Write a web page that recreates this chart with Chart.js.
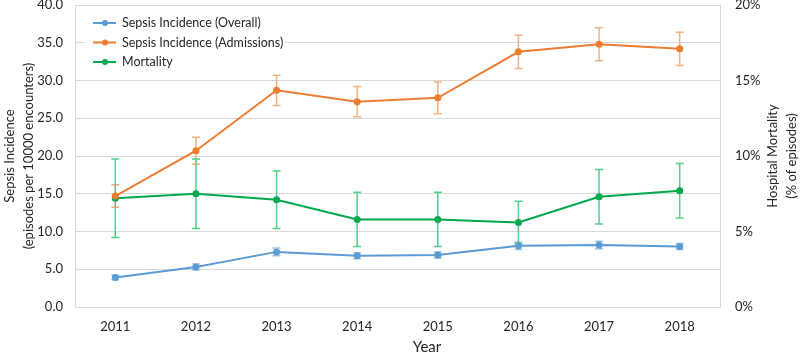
<!DOCTYPE html>
<html lang="en">
<head>
<meta charset="UTF-8">
<title>Sepsis Incidence and Mortality</title>
<script src="https://cdn.jsdelivr.net/npm/chart.js"></script>
<style>
  body { margin: 0; background: #fff; }
</style>
</head>
<body>
<canvas id="myChart" width="800" height="355"></canvas>
<script>
// data
const years = ['2011', '2012', '2013', '2014', '2015', '2016', '2017', '2018'];
const overall = [3.9, 5.3, 7.3, 6.8, 6.9, 8.1, 8.2, 8.0];
const overallErr = [0.3, 0.4, 0.5, 0.4, 0.4, 0.5, 0.5, 0.4];
const admissions = [14.7, 20.7, 28.7, 27.2, 27.7, 33.8, 34.8, 34.2];
const admissionsErr = [1.5, 1.8, 2.0, 2.0, 2.1, 2.2, 2.2, 2.2];
const mortality = [7.2, 7.5, 7.1, 5.8, 5.8, 5.6, 7.3, 7.7];
const mortalityErr = [2.6, 2.3, 1.9, 1.8, 1.8, 1.4, 1.8, 1.8];
const leftTicks = [0, 5, 10, 15, 20, 25, 30, 35, 40];
const rightTicks = [0, 5, 10, 15, 20];

const FONT = "Lato, sans-serif";
const TEXT = '#262626';
const GRID = '#d9d9d9';

// vertical error bars, drawn under the lines
const errorBars = {
  id: 'errorBars',
  beforeDatasetsDraw(chart) {
    const ctx = chart.ctx;
    chart.data.datasets.forEach((ds, i) => {
      const meta = chart.getDatasetMeta(i);
      const yScale = chart.scales[ds.yAxisID];
      ctx.save();
      ctx.strokeStyle = ds.errColor;
      ctx.lineWidth = 1.5;
      meta.data.forEach((pt, j) => {
        const top = yScale.getPixelForValue(ds.data[j] + ds.err[j]);
        const bot = yScale.getPixelForValue(ds.data[j] - ds.err[j]);
        ctx.beginPath();
        ctx.moveTo(pt.x, top); ctx.lineTo(pt.x, bot);
        ctx.moveTo(pt.x - 4, top); ctx.lineTo(pt.x + 4, top);
        ctx.moveTo(pt.x - 4, bot); ctx.lineTo(pt.x + 4, bot);
        ctx.stroke();
      });
      ctx.restore();
    });
  }
};

// legend inside the plot, line + dot like the original
const boxLegend = {
  id: 'boxLegend',
  afterDraw(chart) {
    const ctx = chart.ctx, a = chart.chartArea;
    const x0 = a.left + 10, y0 = a.top + 7;
    ctx.save();
    ctx.fillStyle = '#fff';
    ctx.fillRect(x0, y0, 200, 62);
    ctx.font = '12.5px ' + FONT;
    ctx.textBaseline = 'middle';
    chart.data.datasets.forEach((ds, i) => {
      const y = y0 + 11 + i * 19.5;
      ctx.strokeStyle = ds.borderColor;
      ctx.lineWidth = 2;
      ctx.beginPath();
      ctx.moveTo(x0 + 8, y); ctx.lineTo(x0 + 31, y);
      ctx.stroke();
      ctx.fillStyle = ds.borderColor;
      ctx.beginPath();
      ctx.arc(x0 + 20, y, 3, 0, Math.PI * 2);
      ctx.fill();
      ctx.fillStyle = TEXT;
      ctx.fillText(ds.label, x0 + 37, y);
    });
    ctx.restore();
  }
};

// right axis title reads bottom-to-top, and the x title sits a bit right of centre
const extraTitles = {
  id: 'extraTitles',
  afterDraw(chart) {
    const ctx = chart.ctx, a = chart.chartArea;
    const midY = (a.top + a.bottom) / 2;
    ctx.save();
    ctx.fillStyle = TEXT;
    ctx.textAlign = 'center';
    ctx.textBaseline = 'middle';
    ctx.font = '13px ' + FONT;
    ctx.translate(773, midY);
    ctx.rotate(-Math.PI / 2);
    ctx.fillText('Hospital Mortality', 0, 0);
    ctx.fillText('(% of episodes)', 0, 19);
    ctx.restore();

    ctx.save();
    ctx.fillStyle = TEXT;
    ctx.textAlign = 'center';
    ctx.textBaseline = 'middle';
    ctx.font = '15px ' + FONT;
    ctx.fillText('Year', 427, 347);
    ctx.restore();
  }
};

const noPad = scale => { scale.paddingTop = 0; scale.paddingBottom = 0; };

const ctx = document.getElementById('myChart').getContext('2d');
new Chart(ctx, {
  type: 'line',
  data: {
    labels: years,
    datasets: [
      {
        label: 'Sepsis Incidence (Overall)',
        data: overall, err: overallErr,
        borderColor: '#5B9BD5', backgroundColor: '#5B9BD5', errColor: '#9DC3E6',
        yAxisID: 'y'
      },
      {
        label: 'Sepsis Incidence (Admissions)',
        data: admissions, err: admissionsErr,
        borderColor: '#ED7D31', backgroundColor: '#ED7D31', errColor: '#F4B183',
        yAxisID: 'y'
      },
      {
        label: 'Mortality',
        data: mortality, err: mortalityErr,
        borderColor: '#00A94F', backgroundColor: '#00A94F', errColor: '#52D08A',
        yAxisID: 'y1'
      }
    ]
  },
  options: {
    responsive: false,
    animation: false,
    devicePixelRatio: 1,
    layout: { padding: { top: 5 } },
    elements: {
      line: { borderWidth: 2, tension: 0, fill: false },
      point: { radius: 3.5, borderWidth: 0, hoverRadius: 4 }
    },
    plugins: {
      legend: { display: false },
      tooltip: { enabled: false }
    },
    scales: {
      x: {
        offset: true,
        grid: { display: false, drawTicks: false },
        border: { display: true, color: GRID, width: 1 },
        ticks: { color: TEXT, font: { family: FONT, size: 13 }, padding: 12 },
        afterFit(scale) { scale.height = 48; }
      },
      y: {
        position: 'left',
        min: 0, max: 40,
        afterBuildTicks(scale) { scale.ticks = leftTicks.map(v => ({ value: v })); },
        grid: { color: GRID, lineWidth: 1, drawTicks: false },
        border: { display: true, color: GRID, width: 1 },
        ticks: {
          color: TEXT, font: { family: FONT, size: 13 }, padding: 12,
          callback: v => v.toFixed(1)
        },
        title: {
          display: true,
          text: ['Sepsis Incidence', '(episodes per 10000 encounters)'],
          color: TEXT,
          font: { family: FONT, size: 13, lineHeight: 1.5 },
          padding: { top: 0, bottom: 0 }
        },
        afterFit(scale) { scale.width = 75; noPad(scale); }
      },
      y1: {
        position: 'right',
        min: 0, max: 20,
        afterBuildTicks(scale) { scale.ticks = rightTicks.map(v => ({ value: v })); },
        grid: { display: false, drawTicks: false },
        border: { display: true, color: GRID, width: 1 },
        ticks: {
          color: TEXT, font: { family: FONT, size: 13 }, padding: 15,
          callback: v => v + '%'
        },
        afterFit(scale) { scale.width = 80; noPad(scale); }
      }
    }
  },
  plugins: [errorBars, boxLegend, extraTitles]
});
</script>
</body>
</html>
